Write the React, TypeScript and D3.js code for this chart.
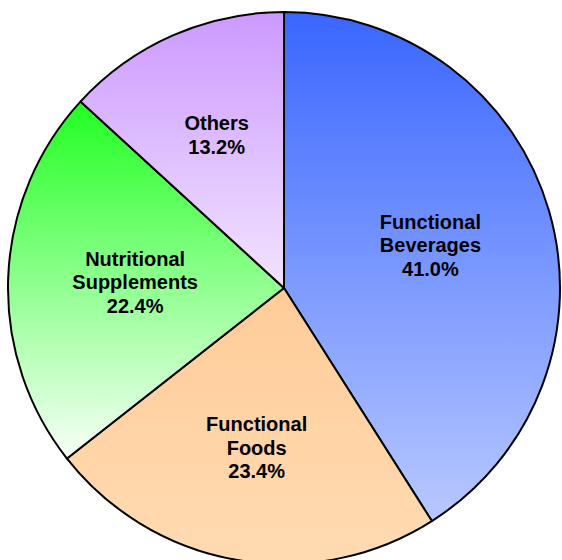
import React, { useEffect, useRef } from 'react';
import * as d3 from 'd3';

const labels = [['Functional', 'Beverages'], ['Functional', 'Foods'], ['Nutritional', 'Supplements'], ['Others']];
const shares = [41.0, 23.4, 22.4, 13.2];
const topColors = ['#3a66ff', '#ffcc99', '#22ff22', '#cc99ff'];
const bottomColors = ['#b8c8ff', '#ffdbb2', '#f8fff8', '#f2e4ff'];

export default function App() {
  const ref = useRef<SVGSVGElement>(null);

  useEffect(() => {
    const width = 562;
    const height = 560;
    const cx = 284;
    const cy = 288;
    const radius = 276;

    const svg = d3.select(ref.current);
    svg.selectAll('*').remove();

    // vertical gradient per slice
    const defs = svg.append('defs');
    shares.forEach((d, i) => {
      const grad = defs.append('linearGradient')
        .attr('id', 'grad' + i)
        .attr('x1', 0).attr('y1', 0)
        .attr('x2', 0).attr('y2', 1);
      grad.append('stop').attr('offset', '0%').attr('stop-color', topColors[i]);
      grad.append('stop').attr('offset', '100%').attr('stop-color', bottomColors[i]);
    });

    const pie = d3.pie<number>().sort(null).value(d => d);
    const arcs = pie(shares);
    const arc = d3.arc<d3.PieArcDatum<number>>().innerRadius(0).outerRadius(radius);

    const g = svg.append('g').attr('transform', `translate(${cx},${cy})`);

    g.selectAll('path.slice')
      .data(arcs)
      .enter()
      .append('path')
      .attr('class', 'slice')
      .attr('d', arc)
      .attr('fill', (d, i) => `url(#grad${i})`)
      .attr('stroke', '#000')
      .attr('stroke-width', 2)
      .attr('stroke-linejoin', 'round');

    const lineH = 23.5;
    const txt = g.selectAll('text.label')
      .data(arcs)
      .enter()
      .append('text')
      .attr('class', 'label')
      .attr('text-anchor', 'middle')
      .attr('font-family', 'Liberation Sans, Arial, sans-serif')
      .attr('font-weight', 'bold')
      .attr('font-size', 20)
      .attr('fill', '#000');

    txt.each(function (d, i) {
      const lines = [...labels[i], shares[i].toFixed(1) + '%'];
      const start = -((lines.length - 1) * lineH) / 2;
      d3.select(this).selectAll('tspan')
        .data(lines)
        .enter()
        .append('tspan')
        .attr('x', 0)
        .attr('y', (l, j) => start + j * lineH)
        .attr('dy', '0.35em')
        .text(l => l);
    });

    // place each label along the mid angle, pulled in so its box stays clear of the rim
    txt.attr('transform', function (d) {
      const a = (d.startAngle + d.endAngle) / 2;
      const ux = Math.sin(a);
      const uy = -Math.cos(a);
      const box = (this as SVGTextElement).getBBox();
      const reach = (box.width / 2) * Math.abs(ux) + (box.height / 2) * Math.abs(uy);
      const r = 0.4 * 158 + 0.6 * (207 - reach);
      return `translate(${r * ux},${r * uy})`;
    });

    svg.attr('width', width).attr('height', height);
  }, []);

  return (
    <svg ref={ref} style={{ position: 'absolute', left: 0, top: 0 }} width={562} height={560}></svg>
  );
}
